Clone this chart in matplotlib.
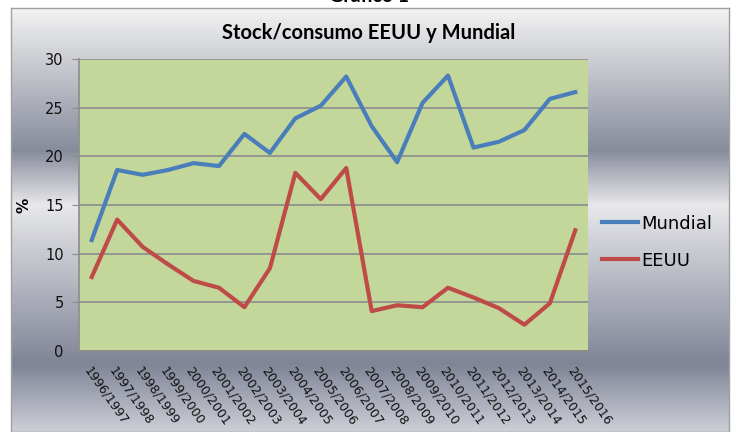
import matplotlib.pyplot as plt
import numpy as np
from matplotlib.colors import LinearSegmentedColormap

# Data
campanas = ['1996/1997', '1997/1998', '1998/1999', '1999/2000', '2000/2001',
            '2001/2002', '2002/2003', '2003/2004', '2004/2005', '2005/2006',
            '2006/2007', '2007/2008', '2008/2009', '2009/2010', '2010/2011',
            '2011/2012', '2012/2013', '2013/2014', '2014/2015', '2015/2016']
mundial = [11.4, 18.6, 18.1, 18.6, 19.3, 19.0, 22.3, 20.35, 23.9, 25.2,
           28.2, 23.1, 19.4, 25.5, 28.3, 20.9, 21.5, 22.7, 25.9, 26.6]
eeuu = [7.6, 13.5, 10.7, 8.9, 7.2, 6.5, 4.5, 8.5, 18.3, 15.6,
        18.8, 4.1, 4.7, 4.5, 6.5, 5.5, 4.4, 2.7, 4.9, 12.4]
yticks = [0, 5, 10, 15, 20, 25, 30]

W, H = 734, 432
fig = plt.figure(figsize=(W / 100, H / 100), dpi=100)
fig.patch.set_facecolor('white')

# gradient background of the chart box (Excel style)
bg = fig.add_axes([11 / W, 0, (729 - 11) / W, (H - 8) / H], zorder=0)
stops = [(0.0, (0.95, 0.95, 0.95)),
         (142 / 424, (0.53, 0.55, 0.61)),
         (197 / 424, (0.91, 0.91, 0.92)),
         (357 / 424, (0.50, 0.52, 0.59)),
         (1.0, (0.80, 0.81, 0.84))]
cmap = LinearSegmentedColormap.from_list('excel', stops)
grad = np.linspace(0, 1, 400).reshape(-1, 1)
bg.imshow(grad, aspect='auto', cmap=cmap, extent=[0, 1, 1, 0])
bg.set_xticks([])
bg.set_yticks([])
for s in bg.spines.values():
    s.set_color('#a0a0a0')
    s.set_linewidth(1)

# page heading, cut off at the top edge as in the original
fig.text(369 / W, 1.0 + 3 / H, 'Gráfico 1', ha='center', va='center', fontsize=14,
         fontweight='bold', family='Lato')

ax = fig.add_axes([79 / W, (H - 351) / H, 509 / W, 292 / H], zorder=1)
ax.set_facecolor('#c4d79b')
x = np.arange(len(campanas))
ax.plot(x, mundial, color='#4a7ebb', lw=3.0, label='Mundial')
ax.plot(x, eeuu, color='#be4b48', lw=3.0, label='EEUU')

ax.set_xlim(-0.5, len(campanas) - 0.5)
ax.set_ylim(0, 30)
ax.set_yticks(yticks)
ax.set_yticklabels([str(v) for v in yticks], fontsize=10.5, color='#111111')
ax.yaxis.grid(True, color='#8c8c8c', lw=1.2)
ax.set_axisbelow(True)
ax.tick_params(axis='y', length=5, color='#8c8c8c', pad=6)

ax.set_xticks(np.arange(len(campanas) + 1) - 0.5)
ax.set_xticklabels([])
ax.tick_params(axis='x', which='major', length=5, color='#8c8c8c')
ax.set_xticks(x, minor=True)
ax.set_xticklabels(campanas, minor=True, rotation=-55, ha='left', va='top',
                   rotation_mode='anchor', fontsize=9, color='#111111')
ax.tick_params(axis='x', which='minor', length=0, pad=10)

for side in ['top', 'right']:
    ax.spines[side].set_visible(False)
for side in ['left', 'bottom']:
    ax.spines[side].set_color('#8c8c8c')
    ax.spines[side].set_linewidth(1.2)

ax.set_ylabel('%', fontsize=11, fontweight='bold', labelpad=10)
fig.text(369 / W, (H - 33) / H, 'Stock/consumo EEUU y Mundial', ha='center',
         va='center', fontsize=14.5, fontweight='bold', family='Lato')

ax.legend(loc='center left', bbox_to_anchor=(0.995, 0.373), frameon=False,
          fontsize=13, handlelength=2.0, handletextpad=0.2, labelspacing=1.05)

fig.savefig('out.png', dpi=100)
